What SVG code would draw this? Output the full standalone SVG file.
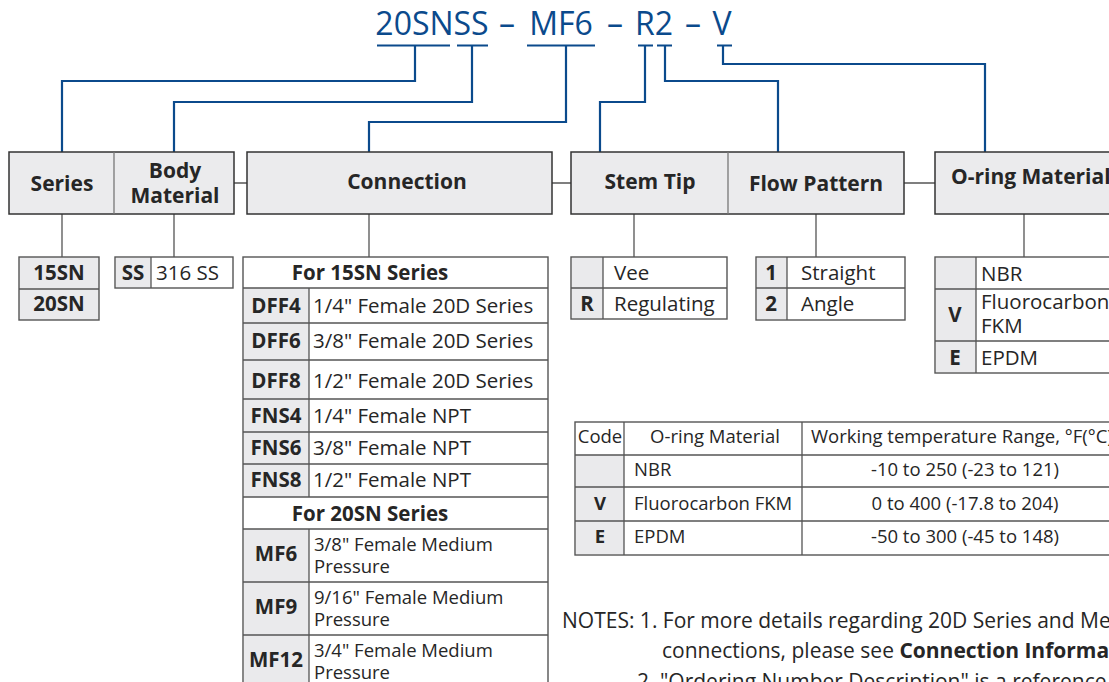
<svg xmlns="http://www.w3.org/2000/svg" width="1109" height="682" viewBox="0 0 1109 682">
<style>
text{font-family:"Open Sans","Noto Sans","Liberation Sans",sans-serif;fill:#262626}
.t{font-size:32px;fill:#0b4a8c}
.h{font-size:21px;font-weight:bold;text-anchor:middle}
.b{font-size:20.5px;font-weight:bold;text-anchor:middle}
.r{font-size:20.5px}
.n{font-size:21px}
.s{font-size:18.5px}
.m{font-size:18.5px}
.mc{font-size:18.5px;text-anchor:middle}
.mb{font-size:18.5px;font-weight:bold;text-anchor:middle}
.hb{fill:#ebebed;stroke:#333;stroke-width:1.5}
.dv{stroke:#777;stroke-width:1.3}
.tb{fill:#fff;stroke:#555;stroke-width:1.4}
.g{fill:#eaeaec;stroke:none}
.ln{stroke:#555;stroke-width:1.3;fill:none}
.bl{stroke:#0b4a8c;stroke-width:2.2;fill:none}
</style>

<g id="title">
<text class="t" x="432" y="35" text-anchor="middle">20SNSS</text>
<text class="t" x="507" y="35" text-anchor="middle">–</text>
<text class="t" x="561" y="35" text-anchor="middle">MF6</text>
<text class="t" x="615" y="35" text-anchor="middle">–</text>
<text class="t" x="654" y="35" text-anchor="middle">R2</text>
<text class="t" x="693" y="35" text-anchor="middle">–</text>
<text class="t" x="722" y="35" text-anchor="middle">V</text>
</g>

<g id="connectors">
<path class="bl" d="M377 45.5H450M457 45.5H488M527 45.5H595M638 45.5H653M657 45.5H672M717 45.5H732"/>
<path class="bl" d="M415 45.5V81H62V152"/>
<path class="bl" d="M472 45.5V102H174V152"/>
<path class="bl" d="M566 45.5V122H369V152"/>
<path class="bl" d="M645 45.5V102H600V152"/>
<path class="bl" d="M665 45.5V81H778V152"/>
<path class="bl" d="M723 45.5V64H985V152"/>
<path class="ln" d="M234 183H247M552 183H571M904 183H935"/>
<path class="ln" d="M62 214V257M174 214V257M369 214V257M634 214V257M816 214V257M1024 214V257"/>
</g>

<g id="header-series-body">
<rect class="hb" x="9" y="152" width="225" height="62"/>
<line class="dv" x1="114" y1="152" x2="114" y2="214"/>
<text class="h" x="62" y="191">Series</text>
<text class="h" x="175" y="178">Body</text>
<text class="h" x="175" y="203">Material</text>
</g>

<g id="header-connection">
<rect class="hb" x="247" y="152" width="305" height="62"/>
<text class="h" x="407" y="189">Connection</text>
</g>

<g id="header-stem-flow">
<rect class="hb" x="571" y="152" width="333" height="62"/>
<line class="dv" x1="728" y1="152" x2="728" y2="214"/>
<text class="h" x="650" y="189">Stem Tip</text>
<text class="h" x="816" y="191">Flow Pattern</text>
</g>

<g id="header-oring">
<rect class="hb" x="935" y="152" width="190" height="62"/>
<text class="h" x="951" y="184" style="text-anchor:start">O-ring Material</text>
</g>

<g id="table-series">
<rect x="19" y="257" width="80" height="63" fill="#eaeaec" stroke="#555" stroke-width="1.4"/>
<line class="ln" x1="19" y1="289" x2="99" y2="289"/>
<text class="b" x="59" y="280">15SN</text>
<text class="b" x="59" y="311">20SN</text>
</g>

<g id="table-body">
<rect class="tb" x="115" y="257" width="118" height="31"/>
<rect class="g" x="116" y="258" width="35" height="29"/>
<line class="ln" x1="151" y1="257" x2="151" y2="288"/>
<text class="b" x="133" y="280">SS</text>
<text class="r" x="156" y="280">316 SS</text>
</g>

<g id="table-connection">
<rect class="tb" x="243" y="257" width="305" height="440"/>
<rect class="g" x="244" y="288" width="65" height="209"/>
<rect class="g" x="244" y="529" width="65" height="160"/>
<path class="ln" d="M243 288H548M243 323H548M243 360H548M243 399H548M243 432H548M243 464H548M243 497H548M243 529H548M243 582H548M243 635H548M309 288V497M309 529V690"/>
<text class="b" x="370" y="280">For 15SN Series</text>
<text class="b" x="276" y="313">DFF4</text><text class="r" x="313" y="313">1/4" Female 20D Series</text>
<text class="b" x="276" y="348">DFF6</text><text class="r" x="313" y="348">3/8" Female 20D Series</text>
<text class="b" x="276" y="388">DFF8</text><text class="r" x="313" y="388">1/2" Female 20D Series</text>
<text class="b" x="276" y="423">FNS4</text><text class="r" x="313" y="423">1/4" Female NPT</text>
<text class="b" x="276" y="455">FNS6</text><text class="r" x="313" y="455">3/8" Female NPT</text>
<text class="b" x="276" y="487">FNS8</text><text class="r" x="313" y="487">1/2" Female NPT</text>
<text class="b" x="370" y="521">For 20SN Series</text>
<text class="b" x="276" y="561">MF6</text><text class="s" x="314" y="551">3/8" Female Medium</text><text class="s" x="314" y="573">Pressure</text>
<text class="b" x="276" y="614">MF9</text><text class="s" x="314" y="604">9/16" Female Medium</text><text class="s" x="314" y="626">Pressure</text>
<text class="b" x="276" y="667">MF12</text><text class="s" x="314" y="657">3/4" Female Medium</text><text class="s" x="314" y="679">Pressure</text>
</g>

<g id="table-stem-tip">
<rect class="tb" x="571" y="257" width="156" height="62"/>
<rect class="g" x="572" y="258" width="31" height="60"/>
<path class="ln" d="M571 288H727M603 257V319"/>
<text class="r" x="614" y="280">Vee</text>
<text class="b" x="587" y="311">R</text>
<text class="r" x="614" y="311">Regulating</text>
</g>

<g id="table-flow">
<rect class="tb" x="756" y="257" width="149" height="63"/>
<rect class="g" x="757" y="258" width="30" height="61"/>
<path class="ln" d="M756 288H905M787 257V320"/>
<text class="b" x="771" y="280">1</text>
<text class="r" x="801" y="280">Straight</text>
<text class="b" x="771" y="311">2</text>
<text class="r" x="801" y="311">Angle</text>
</g>

<g id="table-oring">
<rect class="tb" x="935" y="257" width="190" height="116"/>
<rect class="g" x="936" y="258" width="40" height="114"/>
<path class="ln" d="M935 289H1125M935 341H1125M976 257V373"/>
<text class="r" x="981" y="281">NBR</text>
<text class="b" x="955" y="322">V</text>
<text class="r" x="981" y="309">Fluorocarbon</text>
<text class="r" x="981" y="333">FKM</text>
<text class="b" x="955" y="365">E</text>
<text class="r" x="981" y="365">EPDM</text>
</g>

<g id="table-temperature">
<rect class="tb" x="575" y="422" width="560" height="133"/>
<rect class="g" x="576" y="455" width="48" height="99"/>
<path class="ln" d="M575 455H1135M575 487H1135M575 521H1135M624 422V555M802 422V555"/>
<text class="mc" x="600" y="443">Code</text>
<text class="mc" x="715" y="443">O-ring Material</text>
<text class="m" x="811" y="443">Working temperature Range, °F(°C)</text>
<text class="m" x="634" y="476">NBR</text>
<text class="mc" x="965" y="476">-10 to 250 (-23 to 121)</text>
<text class="mb" x="600" y="510">V</text>
<text class="m" x="634" y="510">Fluorocarbon FKM</text>
<text class="mc" x="965" y="510">0 to 400 (-17.8 to 204)</text>
<text class="mb" x="600" y="543">E</text>
<text class="m" x="634" y="543">EPDM</text>
<text class="mc" x="965" y="543">-50 to 300 (-45 to 148)</text>
</g>

<g id="notes">
<text class="n" x="562" y="628">NOTES: 1. For more details regarding 20D Series and Medium</text>
<text class="n" x="662" y="658">connections, please see <tspan font-weight="bold">Connection Information</tspan></text>
<text class="n" x="637" y="689">2. "Ordering Number Description" is a reference</text>
</g>
</svg>
